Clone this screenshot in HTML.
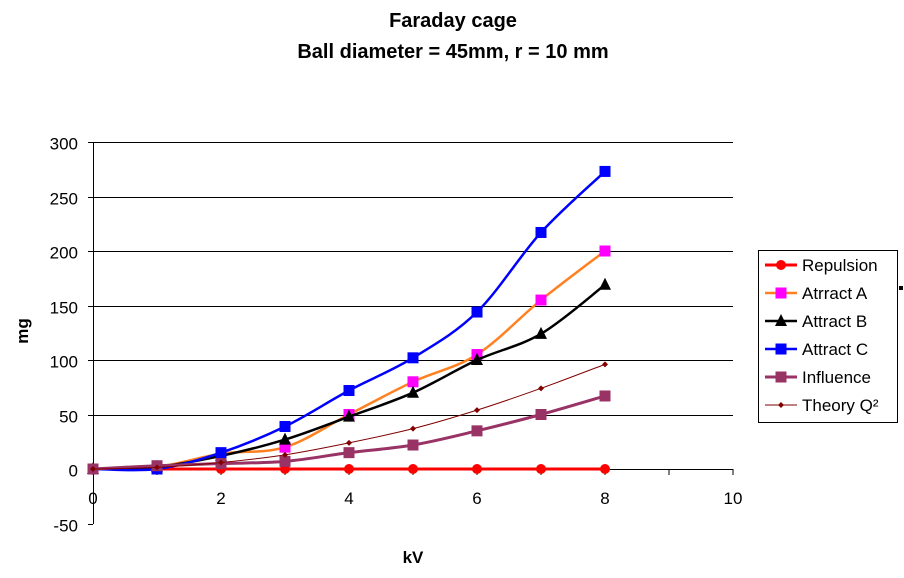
<!DOCTYPE html>
<html><head><meta charset="utf-8"><style>
html,body{margin:0;padding:0;background:#fff;}
svg text{font-family:"Liberation Sans",Arial,sans-serif;}
</style></head><body>
<svg id="s" width="904" height="573" xmlns="http://www.w3.org/2000/svg">
<text x="453" y="27" font-size="20" font-weight="bold" text-anchor="middle">Faraday cage</text>
<text x="453" y="58" font-size="20" font-weight="bold" text-anchor="middle">Ball diameter = 45mm, r = 10 mm</text>
<g id="grid" stroke="#000" stroke-width="1"></g>
<g id="ser"></g>
<text x="28" y="331" font-size="17" font-weight="bold" text-anchor="middle" transform="rotate(-90 28 331)">mg</text>
<text x="413" y="563" font-size="17" font-weight="bold" text-anchor="middle">kV</text>
<rect x="758.5" y="250.5" width="139" height="172" fill="#fff" stroke="#000"/>
<g id="leg"></g>
<rect x="899" y="286" width="4" height="4" fill="#000"/>
</svg>
<script>
var NS="http://www.w3.org/2000/svg";
function X(v){return 93+v*64;}function Y(v){return 469-v*1.09;}
function el(t,a,p){var e=document.createElementNS(NS,t);for(var k in a)e.setAttribute(k,a[k]);(p||document.getElementById('s')).appendChild(e);return e;}
var g=document.getElementById('grid');
for(var v=-50;v<=300;v+=50){var y=Math.round(Y(v))+0.5;
 if(v>0)el('line',{x1:93,x2:733,y1:y,y2:y},g);
 el('line',{x1:88,x2:93,y1:y,y2:y},g);
 var t=el('text',{x:78,y:y+7,'font-size':17,'text-anchor':'end'});t.textContent=v;}
el('line',{x1:93.5,x2:93.5,y1:142,y2:524},g);
el('line',{x1:93,x2:733,y1:469.5,y2:469.5},g);
for(var i=0;i<=10;i+=2){var x=X(i);el('line',{x1:x,x2:x,y1:469,y2:475},g);var t=el('text',{x:x,y:504,'font-size':17,'text-anchor':'middle'});t.textContent=i;}
for(var i=1;i<=9;i+=2){var x=X(i);el('line',{x1:x,x2:x,y1:469,y2:475},g);}
var S=[
{n:'Repulsion',c:'#ff0000',w:3,m:'circle',mc:'#ff0000',d:[0,0,0,0,0,0,0,0,0]},
{n:'Atrract A',c:'#ff8020',w:2.5,m:'sq',mc:'#ff00ff',d:[0,2,14,20,50,80,105,155,200]},
{n:'Attract B',c:'#000000',w:2.5,m:'tri',mc:'#000',d:[0,2,12,27,48,70,100,124,169]},
{n:'Attract C',c:'#0000ff',w:2.5,m:'sq',mc:'#0000ff',d:[0,0,15,39,72,102,144,217,273]},
{n:'Influence',c:'#993366',w:3,m:'sq',mc:'#993366',d:[0,3,5,7,15,22,35,50,67]},
{n:'Theory Q²',c:'#800000',w:1,m:'dot',mc:'#800000',d:[0,1.5,6,13,24,37,54,74,96]}];
function path(p){var d='M'+p[0][0]+','+p[0][1];for(var i=0;i<p.length-1;i++){var p0=p[i-1]||p[i],p1=p[i],p2=p[i+1],p3=p[i+2]||p2;
d+=' C'+(p1[0]+(p2[0]-p0[0])/6)+','+(p1[1]+(p2[1]-p0[1])/6)+' '+(p2[0]-(p3[0]-p1[0])/6)+','+(p2[1]-(p3[1]-p1[1])/6)+' '+p2[0]+','+p2[1];}return d;}
function mk(m,c,x,y,p){if(m=='circle')el('circle',{cx:x,cy:y,r:5,fill:c},p);
else if(m=='sq')el('rect',{x:x-5.5,y:y-5.5,width:11,height:11,fill:c},p);
else if(m=='tri')el('polygon',{points:(x)+','+(y-7)+' '+(x-6)+','+(y+5)+' '+(x+6)+','+(y+5),fill:c},p);
else el('polygon',{points:x+','+(y-3)+' '+(x+3)+','+y+' '+x+','+(y+3)+' '+(x-3)+','+y,fill:c},p);}
var sg=document.getElementById('ser'),lg=document.getElementById('leg');
S.forEach(function(s,k){var p=s.d.map(function(v,i){return [X(i),Y(v)];});
el('path',{d:path(p),fill:'none',stroke:s.c,'stroke-width':s.w},sg);
p.forEach(function(q){mk(s.m,s.mc,q[0],q[1],sg);});
var ly=265+k*28;el('line',{x1:765,x2:797,y1:ly,y2:ly,stroke:s.c,'stroke-width':s.w},lg);mk(s.m,s.mc,781,ly,lg);
var t=el('text',{x:802,y:ly+6,'font-size':17},lg);t.textContent=s.n;});
</script>
</body></html>
